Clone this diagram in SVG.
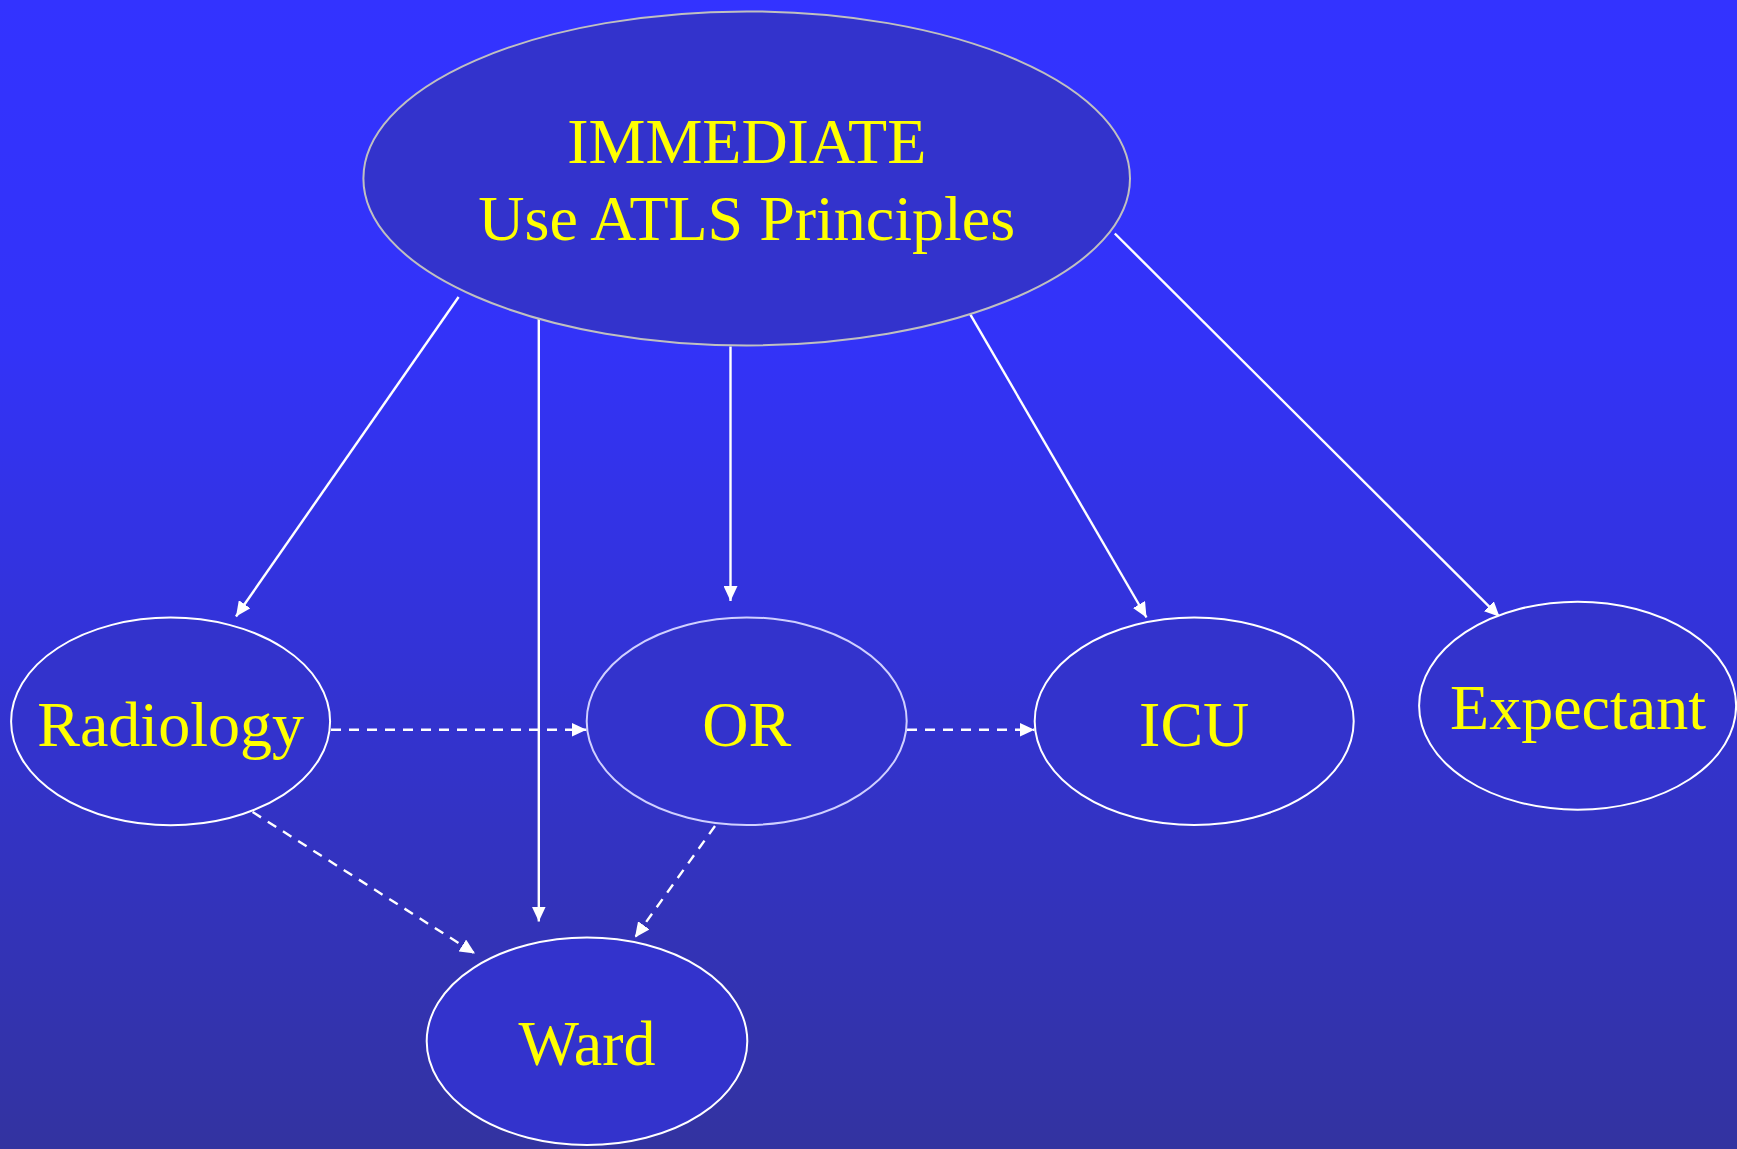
<svg xmlns="http://www.w3.org/2000/svg" width="1737" height="1149" viewBox="0 0 1737 1149">
<defs>
<linearGradient id="bg" x1="0" y1="0" x2="0" y2="1">
<stop offset="0" stop-color="#3333ff"/>
<stop offset="0.3" stop-color="#3333f8"/>
<stop offset="1" stop-color="#3333a0"/>
</linearGradient>
<marker id="ah" viewBox="0 0 15 14" refX="15" refY="7" markerWidth="15" markerHeight="14" markerUnits="userSpaceOnUse" orient="auto">
<path d="M0,0 L15,7 L0,14 Z" fill="#ffffff"/>
</marker>
<style>
.node { fill: #3333cc; stroke: #ffffff; stroke-width: 2; }
.lbl { font-family: "Liberation Serif", "Times New Roman", serif; font-size: 64px; fill: #ffff00; text-anchor: middle; }
.edge { stroke: #ffffff; stroke-width: 2.4; fill: none; marker-end: url(#ah); }
.dash { stroke-dasharray: 10 8; }
</style>
</defs>
<rect x="0" y="0" width="1737" height="1149" fill="url(#bg)"/>
<g id="connectors">
<line class="edge" x1="458.6" y1="297" x2="236" y2="616.5"/>
<line class="edge" x1="538.8" y1="313.5" x2="538.8" y2="921.5"/>
<line class="edge" x1="730.5" y1="346.5" x2="730.5" y2="601"/>
<line class="edge" x1="970.4" y1="314.6" x2="1146.5" y2="617.5"/>
<line class="edge" x1="1114.8" y1="233.5" x2="1499.5" y2="616.8"/>
<line class="edge dash" x1="331" y1="729.8" x2="586.5" y2="729.8"/>
<line class="edge dash" x1="907" y1="729.8" x2="1034.5" y2="729.8"/>
<line class="edge dash" x1="252.6" y1="812" x2="475" y2="953.5"/>
<line class="edge dash" x1="715" y1="826" x2="635" y2="937.5"/>
</g>
<g id="node-immediate">
<ellipse class="node" cx="746.7" cy="178.4" rx="383.3" ry="167" style="stroke:#c0c0c0"/>
<text class="lbl" x="746.7" y="163">IMMEDIATE</text>
<text class="lbl" x="746.7" y="240">Use ATLS Principles</text>
</g>
<g id="node-radiology">
<ellipse class="node" cx="170.6" cy="721.4" rx="159.5" ry="103.8"/>
<text class="lbl" x="170.6" y="746">Radiology</text>
</g>
<g id="node-or">
<ellipse class="node" cx="746.7" cy="721.2" rx="160" ry="103.8" style="stroke:#d0d0ff"/>
<text class="lbl" x="746.7" y="746">OR</text>
</g>
<g id="node-icu">
<ellipse class="node" cx="1194.2" cy="721.2" rx="159.5" ry="103.8"/>
<text class="lbl" x="1194.2" y="746">ICU</text>
</g>
<g id="node-expectant">
<ellipse class="node" cx="1577.6" cy="705.7" rx="158.5" ry="104"/>
<text class="lbl" x="1578" y="728.5">Expectant</text>
</g>
<g id="node-ward">
<ellipse class="node" cx="587" cy="1041.2" rx="160.3" ry="103.8"/>
<text class="lbl" x="587" y="1065">Ward</text>
</g>
</svg>
